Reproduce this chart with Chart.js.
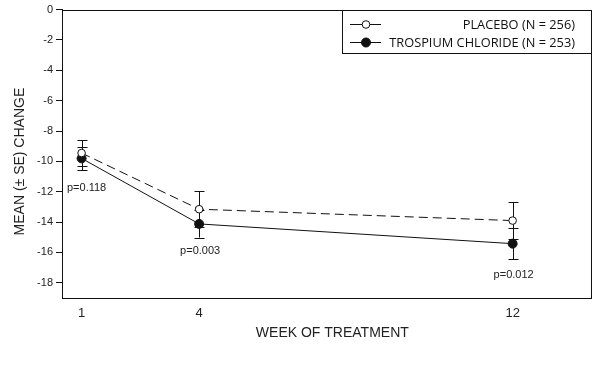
<!DOCTYPE html>
<html>
<head>
<meta charset="utf-8">
<script src="https://cdn.jsdelivr.net/npm/chart.js@4/dist/chart.umd.min.js"></script>
<style>
  html, body { margin: 0; padding: 0; background: #fff; }
  #wrap { width: 601px; height: 381px; }
</style>
</head>
<body>
<div id="wrap"><canvas id="c" width="601" height="381"></canvas></div>
<script>
const weeks = [1, 4, 12];
const placeboMean = [-9.45, -13.15, -13.9];
const placeboSE = [0.85, 1.2, 1.22];
const trospiumMean = [-9.8, -14.12, -15.42];
const trospiumSE = [0.78, 0.9, 1.03];
const pValueLabels = ['p=0.118', 'p=0.003', 'p=0.012'];
const pValueY = [-11.75, -15.9, -17.5];
const xTicks = [1, 4, 12];
const yTicks = [0, -2, -4, -6, -8, -10, -12, -14, -16, -18];
const legendLabels = ['PLACEBO (N = 256)', 'TROSPIUM CHLORIDE (N = 253)'];

const errBars = {
  id: 'errBars',
  beforeDatasetsDraw(chart) {
    const ctx = chart.ctx, xs = chart.scales.x, ys = chart.scales.y;
    ctx.save();
    ctx.strokeStyle = '#111';
    ctx.lineWidth = 1;
    const sets = [[placeboMean, placeboSE], [trospiumMean, trospiumSE]];
    sets.forEach(([m, se]) => {
      weeks.forEach((w, i) => {
        const x = Math.round(xs.getPixelForValue(w)) + 0.5;
        const y1 = ys.getPixelForValue(m[i] + se[i]);
        const y2 = ys.getPixelForValue(m[i] - se[i]);
        ctx.beginPath();
        ctx.moveTo(x, y1); ctx.lineTo(x, y2);
        ctx.moveTo(x - 5, Math.round(y1) + 0.5); ctx.lineTo(x + 5, Math.round(y1) + 0.5);
        ctx.moveTo(x - 5, Math.round(y2) + 0.5); ctx.lineTo(x + 5, Math.round(y2) + 0.5);
        ctx.stroke();
      });
    });
    ctx.restore();
  },
  afterDatasetsDraw(chart) {
    const ctx = chart.ctx, xs = chart.scales.x, ys = chart.scales.y, a = chart.chartArea;
    ctx.save();
    // frame
    ctx.strokeStyle = '#111';
    ctx.lineWidth = 1;
    ctx.strokeRect(Math.round(a.left) + 0.5, Math.round(a.top) + 0.5, Math.round(a.right - a.left), Math.round(a.bottom - a.top));
    // p-values
    ctx.fillStyle = '#222';
    ctx.font = '11px "Liberation Sans", Arial, sans-serif';
    ctx.textAlign = 'center';
    ctx.textBaseline = 'middle';
    weeks.forEach((w, i) => {
      ctx.fillText(pValueLabels[i], xs.getPixelForValue(w) + (i === 0 ? 5 : 1), ys.getPixelForValue(pValueY[i]));
    });
    // legend
    const lx = 342, ly = a.top, lw = a.right - 342, lh = 43;
    ctx.fillStyle = '#fff';
    ctx.fillRect(lx, ly, lw, lh);
    ctx.strokeStyle = '#111';
    ctx.strokeRect(lx + 0.5, Math.round(ly) + 0.5, Math.round(lw), lh);
    const rows = [Math.round(ly) + 14, Math.round(ly) + 32];
    ctx.font = '12.8px "Open Sans", sans-serif';
    ctx.textAlign = 'right';
    ctx.textBaseline = 'middle';
    ctx.fillStyle = '#111';
    rows.forEach((ry, i) => {
      ctx.beginPath();
      ctx.moveTo(350, ry + 0.5); ctx.lineTo(381, ry + 0.5);
      ctx.stroke();
      ctx.beginPath();
      ctx.arc(366, ry + 0.5, i === 0 ? 3.8 : 4.5, 0, Math.PI * 2);
      ctx.fillStyle = i === 0 ? '#fff' : '#111';
      ctx.fill();
      ctx.stroke();
      ctx.fillStyle = '#111';
      ctx.fillText(legendLabels[i], 575, ry + 1);
    });
    ctx.restore();
  }
};

new Chart(document.getElementById('c'), {
  type: 'line',
  data: {
    datasets: [
      {
        label: legendLabels[0],
        data: weeks.map((w, i) => ({ x: w, y: placeboMean[i] })),
        borderColor: '#111',
        borderWidth: 1,
        borderDash: [9, 5],
        pointRadius: 3.8,
        pointBackgroundColor: '#fff',
        pointBorderColor: '#111',
        pointBorderWidth: 1,
        tension: 0
      },
      {
        label: legendLabels[1],
        data: weeks.map((w, i) => ({ x: w, y: trospiumMean[i] })),
        borderColor: '#111',
        borderWidth: 1,
        pointRadius: 4.5,
        pointBackgroundColor: '#111',
        pointBorderColor: '#111',
        pointBorderWidth: 1,
        tension: 0
      }
    ]
  },
  options: {
    responsive: false,
    animation: false,
    devicePixelRatio: 1,
    layout: { padding: { top: 9, right: 10, left: 0, bottom: 0 } },
    plugins: { legend: { display: false }, tooltip: { enabled: false } },
    scales: {
      x: {
        type: 'linear',
        min: 0.5,
        max: 14,
        afterBuildTicks: s => { s.ticks = xTicks.map(v => ({ value: v })); },
        afterFit: s => { s.height = 83; },
        grid: { display: false, drawTicks: false },
        border: { display: true, color: '#111' },
        ticks: { color: '#222', padding: 8, font: { family: '"Liberation Sans", Arial, sans-serif', size: 13 } },
        title: {
          display: true,
          text: '   WEEK OF TREATMENT',
          color: '#222',
          font: { family: '"Liberation Sans", Arial, sans-serif', size: 14 },
          padding: { top: 0, bottom: 39 }
        }
      },
      y: {
        min: -19,
        max: 0,
        afterBuildTicks: s => { s.ticks = yTicks.map(v => ({ value: v })); },
        afterFit: s => { s.width = 62; },
        grid: { drawOnChartArea: false, drawTicks: true, tickLength: 6, color: '#111' },
        border: { display: true, color: '#111' },
        ticks: { color: '#222', padding: 3, font: { family: '"Liberation Sans", Arial, sans-serif', size: 11 } },
        title: {
          display: true,
          text: 'MEAN (± SE) CHANGE    ',
          color: '#222',
          font: { family: '"Liberation Sans", Arial, sans-serif', size: 14 },
          padding: { top: 12, bottom: 0 }
        }
      }
    }
  },
  plugins: [errBars]
});
</script>
</body>
</html>
